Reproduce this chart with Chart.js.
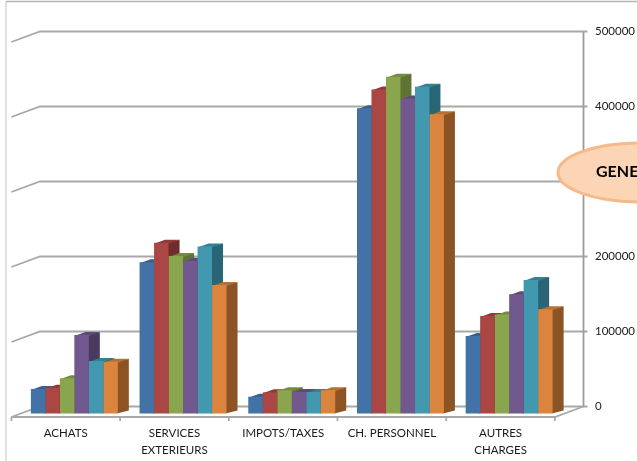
<!DOCTYPE html>
<html>
<head>
<meta charset="utf-8">
<style>html,body{margin:0;padding:0;background:#fff;overflow:hidden}canvas{display:block}</style>
<script src="https://cdn.jsdelivr.net/npm/chart.js@4"></script>
</head>
<body>
<canvas id="c" width="637" height="461"></canvas>
<script>
const categories = [["ACHATS"], ["SERVICES", "EXTERIEURS"], ["IMPOTS/TAXES"], ["CH. PERSONNEL"], ["AUTRES", "CHARGES"]];
const series1 = [32700, 201600, 22400, 407000, 103300];
const series2 = [34400, 227700, 28200, 432000, 130000];
const series3 = [47000, 210000, 31000, 449000, 132000];
const series4 = [104700, 203700, 28700, 420000, 159000];
const series5 = [70000, 222700, 28700, 435700, 178000];
const series6 = [69000, 171300, 31000, 399000, 139000];
const tickValues = [0, 100000, 200000, 300000, 400000, 500000];
const calloutText = "GENE";

const seriesList = [series1, series2, series3, series4, series5, series6];
const frontColors = ["#4372A7", "#AA4643", "#89A54E", "#71588F", "#4198AF", "#DB843D"];
const sideColors  = ["#2F5377", "#6F2E2C", "#5F7335", "#4B3A60", "#2A6575", "#8C5424"];
const topColors   = ["#38608E", "#8E3A38", "#738B40", "#5E4977", "#357F93", "#B96F33"];

const FONT = "Lato, 'Liberation Sans', sans-serif";
const DEPTH = {x: 11, y: -3};       // bar depth
const WALL = {x: 20, y: -7};        // back wall, relative to bar plane
const FRONT = {x: -8.6, y: 3.5};    // front floor edge, relative to bar plane

const scene = {
  id: "scene",
  beforeDatasetsDraw(chart) {
    const {ctx, chartArea: a, scales: {x, y2}} = chart;
    ctx.save();
    // outer frame
    ctx.strokeStyle = "#d4d4d4"; ctx.lineWidth = 1.4;
    ctx.beginPath(); ctx.moveTo(6, 461); ctx.lineTo(6, 1.5); ctx.stroke();
    ctx.strokeStyle = "#b4b4b4"; ctx.lineWidth = 1.4;
    ctx.beginPath(); ctx.moveTo(6, 1.5); ctx.lineTo(637, 1.5); ctx.stroke();

    const wl = a.left + WALL.x, wr = a.right + WALL.x;
    const dx = FRONT.x - WALL.x, dy = FRONT.y - WALL.y;
    ctx.strokeStyle = "#a8a8a8"; ctx.lineWidth = 1.8; ctx.lineCap = "butt";
    tickValues.forEach(v => {
      const py = y2.getPixelForValue(v);
      ctx.beginPath();
      ctx.moveTo(wl + dx, py + dy); ctx.lineTo(wl, py); ctx.lineTo(wr + 4, py);
      ctx.stroke();
    });
    // right axis
    ctx.strokeStyle = "#9c9c9c";
    ctx.beginPath();
    ctx.moveTo(wr, y2.getPixelForValue(500000)); ctx.lineTo(wr, y2.getPixelForValue(0));
    ctx.stroke();
    // floor front edge and right side
    const p0 = y2.getPixelForValue(0);
    const half = (x.getPixelForTick(1) - x.getPixelForTick(0)) / 2;
    const fy = p0 + dy, fl = x.getPixelForTick(0) - half + FRONT.x, fr = x.getPixelForTick(categories.length - 1) + half + FRONT.x;
    ctx.strokeStyle = "#a8a8a8"; ctx.lineWidth = 1.8;
    ctx.beginPath(); ctx.moveTo(fl, fy); ctx.lineTo(fr, fy); ctx.lineTo(wr, p0); ctx.stroke();
    for (let i = 0; i <= categories.length; i++) {
      const tx = fl + i * (fr - fl) / categories.length;
      ctx.beginPath(); ctx.moveTo(tx, fy); ctx.lineTo(tx, fy + 4); ctx.stroke();
    }
    // bar side and top faces, left to right; the front faces are painted over them by the library
    seriesList.forEach((_, i) => {
      chart.getDatasetMeta(i).data.forEach(b => {
        const l = b.x - b.width / 2, r = b.x + b.width / 2, t = b.y, bt = b.base;
        ctx.fillStyle = sideColors[i];
        ctx.beginPath();
        ctx.moveTo(r - 1, t); ctx.lineTo(r + DEPTH.x, t + DEPTH.y); ctx.lineTo(r + DEPTH.x, bt + DEPTH.y); ctx.lineTo(r - 1, bt);
        ctx.closePath(); ctx.fill();
        ctx.fillStyle = topColors[i];
        ctx.beginPath();
        ctx.moveTo(l, t + 1); ctx.lineTo(l + DEPTH.x, t + DEPTH.y); ctx.lineTo(r + DEPTH.x, t + DEPTH.y); ctx.lineTo(r, t + 1);
        ctx.closePath(); ctx.fill();
      });
    });
    ctx.restore();
  },
  afterDraw(chart) {
    const {ctx} = chart;
    ctx.save();
    ctx.beginPath();
    ctx.ellipse(640, 172.5, 82, 29.5, 0, 0, Math.PI * 2);
    ctx.fillStyle = "#FBD5B5"; ctx.fill();
    ctx.strokeStyle = "#F6B98A"; ctx.lineWidth = 3; ctx.stroke();
    ctx.fillStyle = "#000";
    ctx.font = "bold 16px " + FONT;
    ctx.textAlign = "left"; ctx.textBaseline = "middle";
    ctx.fillText(calloutText, 596, 172);
    ctx.restore();
  }
};

new Chart(document.getElementById("c"), {
  type: "bar",
  data: {
    labels: categories,
    datasets: seriesList.map((d, i) => ({
      label: "Série " + (i + 1),
      data: d,
      backgroundColor: frontColors[i],
      borderWidth: 0,
      clip: false
    }))
  },
  options: {
    responsive: false,
    animation: false,
    layout: {padding: {left: 20, top: 31.5, right: 0, bottom: 0}},
    plugins: {legend: {display: false}, tooltip: {enabled: false}, title: {display: false}},
    datasets: {bar: {categoryPercentage: 0.8, barPercentage: 1}},
    scales: {
      x: {
        position: "bottom",
        grid: {display: false, drawTicks: false},
        border: {display: false},
        afterFit(s) { s.height = 44; },
        ticks: {
          autoSkip: false, maxRotation: 0, minRotation: 0,
          padding: 7, labelOffset: -8.6, color: "#1a1a1a",
          font: {family: FONT, size: 11.5, lineHeight: 1.55}
        }
      },
      y: {
        display: false,
        min: -4667, max: 509333
      },
      y2: {
        position: "right",
        min: -14000, max: 500000,
        grid: {display: false, drawTicks: false},
        border: {display: false},
        afterFit(s) { s.width = 73.5; s.paddingTop = 0; s.paddingBottom = 0; },
        afterBuildTicks(s) { s.ticks = tickValues.map(v => ({value: v})); },
        ticks: {
          padding: 31.5, color: "#1a1a1a",
          font: {family: FONT, size: 11.5},
          callback: v => String(v)
        }
      }
    }
  },
  plugins: [scene]
});
</script>
</body>
</html>
